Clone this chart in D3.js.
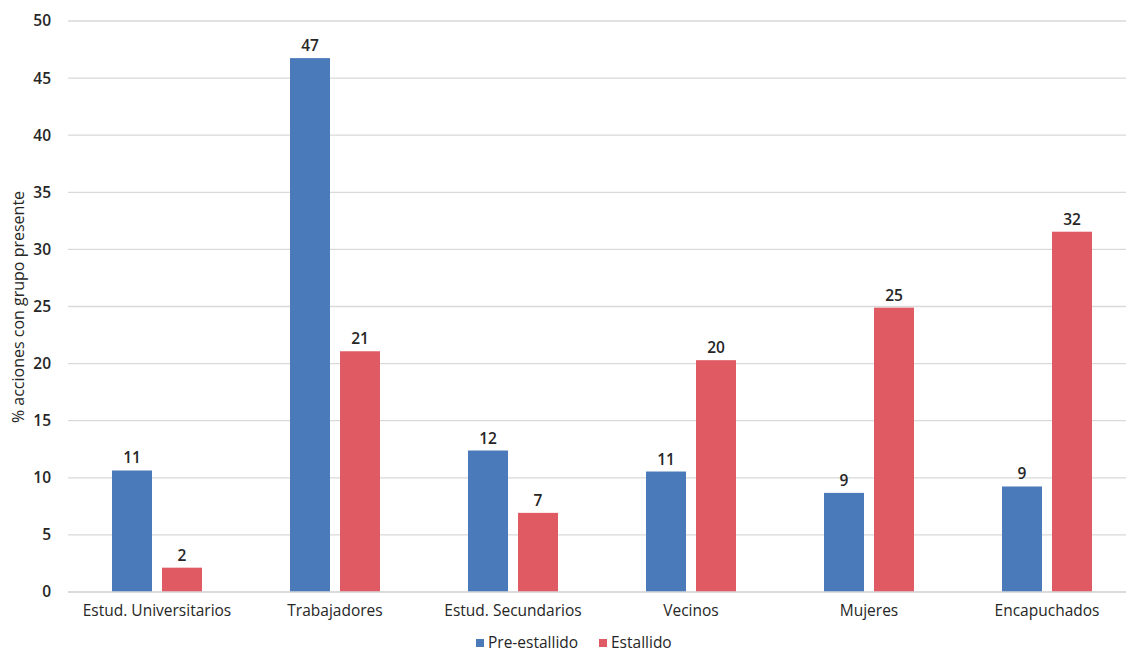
<!DOCTYPE html>
<html><head><meta charset="utf-8">
<script src="https://cdn.jsdelivr.net/npm/d3@7"></script>
<style>
body{margin:0;background:#fff;}
text{font-family:"Open Sans","Lato",sans-serif;fill:#262626;}
</style></head>
<body><svg id="c" width="1126" height="652"></svg>
<script>
const categories = ["Estud. Universitarios","Trabajadores","Estud. Secundarios","Vecinos","Mujeres","Encapuchados"];
const seriesNames = ["Pre-estallido","Estallido"];
const preEstallido = [10.64, 46.75, 12.39, 10.55, 8.68, 9.24];
const estallido = [2.13, 21.08, 6.93, 20.3, 24.9, 31.55];
const yTicks = [0,5,10,15,20,25,30,35,40,45,50];
const colors = ["#4a7aba","#e05a63"];

const FS = 15.5;
const svg = d3.select("#c");
const y = d3.scaleLinear().domain([0,50]).range([592,21]);
const x0 = d3.scaleBand().domain(categories).range([68,1136]);
const groupW = 90;
const x1 = d3.scaleBand().domain(seriesNames).range([0,groupW]).paddingInner(0.2);

// gridlines
svg.append("g").selectAll("line").data(yTicks).join("line")
  .attr("x1",68).attr("x2",1126)
  .attr("y1",d=>y(d)).attr("y2",d=>y(d))
  .attr("stroke","#d9d9d9").attr("stroke-width",1.3);

// y axis labels
const yAxis = d3.axisLeft(y).tickValues(yTicks).tickSize(0).tickPadding(0);
const ga = svg.append("g").attr("transform","translate(51,0)").call(yAxis);
ga.select(".domain").remove();
ga.selectAll("text").attr("font-size",FS).attr("fill","#333").style("font-family",'"Open Sans",sans-serif').style("font-weight",600);

const data = categories.map((c,i)=>({cat:c, vals:[preEstallido[i], estallido[i]]}));
const off = (x0.bandwidth()-groupW)/2;
const g = svg.append("g").selectAll("g").data(data).join("g")
  .attr("transform",d=>`translate(${x0(d.cat)+off},0)`);
g.selectAll("rect").data(d=>d.vals.map((v,j)=>({s:seriesNames[j],v,j}))).join("rect")
  .attr("x",d=>x1(d.s)).attr("width",x1.bandwidth())
  .attr("y",d=>y(d.v)).attr("height",d=>y(0)-y(d.v))
  .attr("fill",d=>colors[d.j]);
g.selectAll("text.v").data(d=>d.vals.map((v,j)=>({s:seriesNames[j],v,j}))).join("text")
  .attr("class","v")
  .attr("x",d=>x1(d.s)+x1.bandwidth()/2).attr("y",d=>y(d.v)-7)
  .attr("text-anchor","middle").attr("font-size",FS).style("font-weight",600)
  .text(d=>Math.round(d.v));

// baseline
svg.append("line").attr("x1",68).attr("x2",1126).attr("y1",y(0)).attr("y2",y(0))
  .attr("stroke","#d9d9d9").attr("stroke-width",1.3);

// x axis labels
const xAxis = d3.axisBottom(x0).tickSize(0).tickPadding(0);
const gx = svg.append("g").attr("transform","translate(0,605)").call(xAxis);
gx.select(".domain").remove();
gx.selectAll("text").attr("font-size",FS).attr("fill","#262626").attr("dy","0.71em").style("font-family",'"Open Sans",sans-serif');

// y title
svg.append("text").attr("transform","translate(24,307) rotate(-90)")
  .attr("text-anchor","middle").attr("font-size",FS+0.5).attr("fill","#333")
  .text("% acciones con grupo presente");

// legend
const legX = [476, 599];
const lg = svg.append("g").selectAll("g").data(seriesNames).join("g")
  .attr("transform",(d,i)=>`translate(${legX[i]},643)`);
lg.append("rect").attr("x",0).attr("y",-4).attr("width",8).attr("height",8).attr("fill",(d,i)=>colors[i]);
lg.append("text").attr("x",12).attr("y",0).attr("dy","0.35em").attr("font-size",FS).text(d=>d);
</script></body></html>
